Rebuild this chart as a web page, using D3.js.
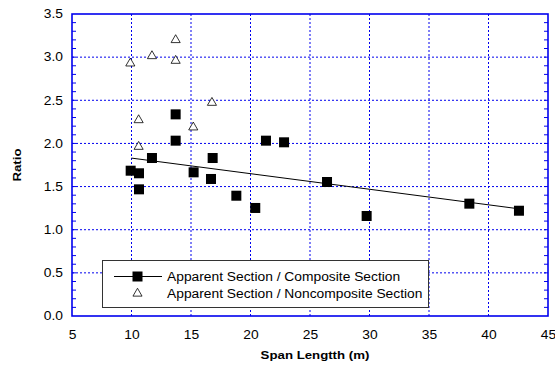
<!DOCTYPE html>
<html><head><meta charset="utf-8">
<script src="https://cdn.jsdelivr.net/npm/d3@7"></script>
<style>body{margin:0;background:#fff}svg{display:block;font-family:"Liberation Sans",Arial,sans-serif}</style>
</head><body>
<script>
const compX = [9.93, 10.63, 10.63, 11.72, 13.71, 13.71, 15.22, 16.82, 16.68, 18.81, 20.40, 21.30, 22.82, 26.43, 29.76, 38.39, 42.56];
const compY = [1.684, 1.654, 1.468, 1.831, 2.337, 2.032, 1.665, 1.831, 1.588, 1.394, 1.252, 2.032, 2.013, 1.553, 1.159, 1.302, 1.220];
const nonX = [9.90, 11.72, 13.71, 13.71, 16.76, 10.60, 15.19, 10.60];
const nonY = [2.928, 3.013, 3.199, 2.959, 2.472, 2.271, 2.187, 1.962];
const trendX = [10.0, 42.9];
const trendY = [1.83, 1.236];
const xTicks = [5, 10, 15, 20, 25, 30, 35, 40, 45];
const yTicks = [0.0, 0.5, 1.0, 1.5, 2.0, 2.5, 3.0, 3.5];
const legendLabels = ["Apparent Section / Composite Section", "Apparent Section / Noncomposite Section"];

const W = 555, H = 365;
const L = 72, R = 548, T = 14, B = 316;
const STRETCH = 1.15;
const svg = d3.select("body").append("svg").attr("width", W).attr("height", H);
const x = d3.scaleLinear().domain([5, 45]).range([L, R]);
const y = d3.scaleLinear().domain([0, 3.5]).range([B, T]);
const blue = "#0000ee";

function stretch(sel) {
  sel.each(function () {
    const len = this.getComputedTextLength();
    d3.select(this).attr("textLength", len * STRETCH).attr("lengthAdjust", "spacingAndGlyphs");
  });
}

// grid
const g = svg.append("g");
g.selectAll(".gx").data(xTicks.filter(v => v > 5 && v < 45)).enter().append("line")
  .attr("x1", d => x(d)).attr("x2", d => x(d)).attr("y1", T).attr("y2", B)
  .attr("stroke", blue).attr("stroke-width", 1).attr("stroke-dasharray", "2,2");
g.selectAll(".gy").data(yTicks.filter(v => v > 0 && v < 3.5)).enter().append("line")
  .attr("y1", d => y(d)).attr("y2", d => y(d)).attr("x1", L).attr("x2", R)
  .attr("stroke", blue).attr("stroke-width", 1).attr("stroke-dasharray", "2,2");

// minor ticks left and right
const minor = d3.range(0, 35).map(i => i / 10).filter(v => v > 0);
svg.selectAll(".ml").data(minor).enter().append("line")
  .attr("x1", L).attr("x2", L + 4).attr("y1", d => y(d)).attr("y2", d => y(d))
  .attr("stroke", blue).attr("stroke-width", 1);
svg.selectAll(".mr").data(minor).enter().append("line")
  .attr("x1", R - 4).attr("x2", R).attr("y1", d => y(d)).attr("y2", d => y(d))
  .attr("stroke", blue).attr("stroke-width", 1);

// frame
svg.append("rect").attr("x", L).attr("y", T).attr("width", R - L).attr("height", B - T)
  .attr("fill", "none").attr("stroke", blue).attr("stroke-width", 1.6);

// axes labels via d3 axes (no lines)
const xa = svg.append("g").attr("transform", `translate(0,${B})`)
  .call(d3.axisBottom(x).tickValues(xTicks).tickSize(0).tickPadding(14).tickFormat(d3.format("d")));
xa.select(".domain").remove();
xa.selectAll("text").attr("font-size", 12).attr("fill", "#000").attr("font-family", "Liberation Sans, Arial, sans-serif").call(stretch);
const ya = svg.append("g").attr("transform", `translate(${L},0)`)
  .call(d3.axisLeft(y).tickValues(yTicks).tickSize(0).tickPadding(9).tickFormat(d3.format(".1f")));
ya.select(".domain").remove();
ya.selectAll("text").attr("font-size", 12).attr("fill", "#000").attr("font-family", "Liberation Sans, Arial, sans-serif").call(stretch);

svg.append("text").attr("x", (L + R) / 2 + 5).attr("y", 359).attr("text-anchor", "middle")
  .attr("font-size", 11.5).attr("font-weight", "bold").text("Span Lengtth (m)").call(stretch);
svg.append("text").attr("transform", `translate(21,${(T + B) / 2}) rotate(-90)`).attr("text-anchor", "middle")
  .attr("font-size", 11.5).attr("font-weight", "bold").text("Ratio").call(stretch);

// trend line
svg.append("path").datum(trendX.map((v, i) => [v, trendY[i]]))
  .attr("d", d3.line().x(d => x(d[0])).y(d => y(d[1])))
  .attr("stroke", "#000").attr("stroke-width", 1).attr("fill", "none");

// squares
const S = 10;
svg.selectAll(".sq").data(compX.map((v, i) => [v, compY[i]])).enter().append("rect")
  .attr("x", d => x(d[0]) - S / 2).attr("y", d => y(d[1]) - S / 2).attr("width", S).attr("height", S)
  .attr("fill", "#000");

// triangles
const tri = d3.symbol().type(d3.symbolTriangle).size(36);
svg.selectAll(".tr").data(nonX.map((v, i) => [v, nonY[i]])).enter().append("path")
  .attr("d", tri).attr("transform", d => `translate(${x(d[0])},${y(d[1])})`)
  .attr("fill", "#fff").attr("stroke", "#000").attr("stroke-width", 0.8);

// legend
const lg = svg.append("g");
lg.append("rect").attr("x", 102.5).attr("y", 260.5).attr("width", 326).attr("height", 47)
  .attr("fill", "#fff").attr("stroke", "#333").attr("stroke-width", 1);
lg.append("line").attr("x1", 114).attr("x2", 162).attr("y1", 276.5).attr("y2", 276.5).attr("stroke", "#000");
lg.append("rect").attr("x", 137.5 - S / 2).attr("y", 276.5 - S / 2).attr("width", S).attr("height", S).attr("fill", "#000");
lg.append("path").attr("d", tri).attr("transform", "translate(137.5,293.5)")
  .attr("fill", "#fff").attr("stroke", "#000").attr("stroke-width", 0.8);
lg.selectAll(".lt").data(legendLabels).enter().append("text")
  .attr("x", 167).attr("y", (d, i) => 281 + i * 17).attr("font-size", 12).text(d => d).call(stretch);
</script>
</body></html>
